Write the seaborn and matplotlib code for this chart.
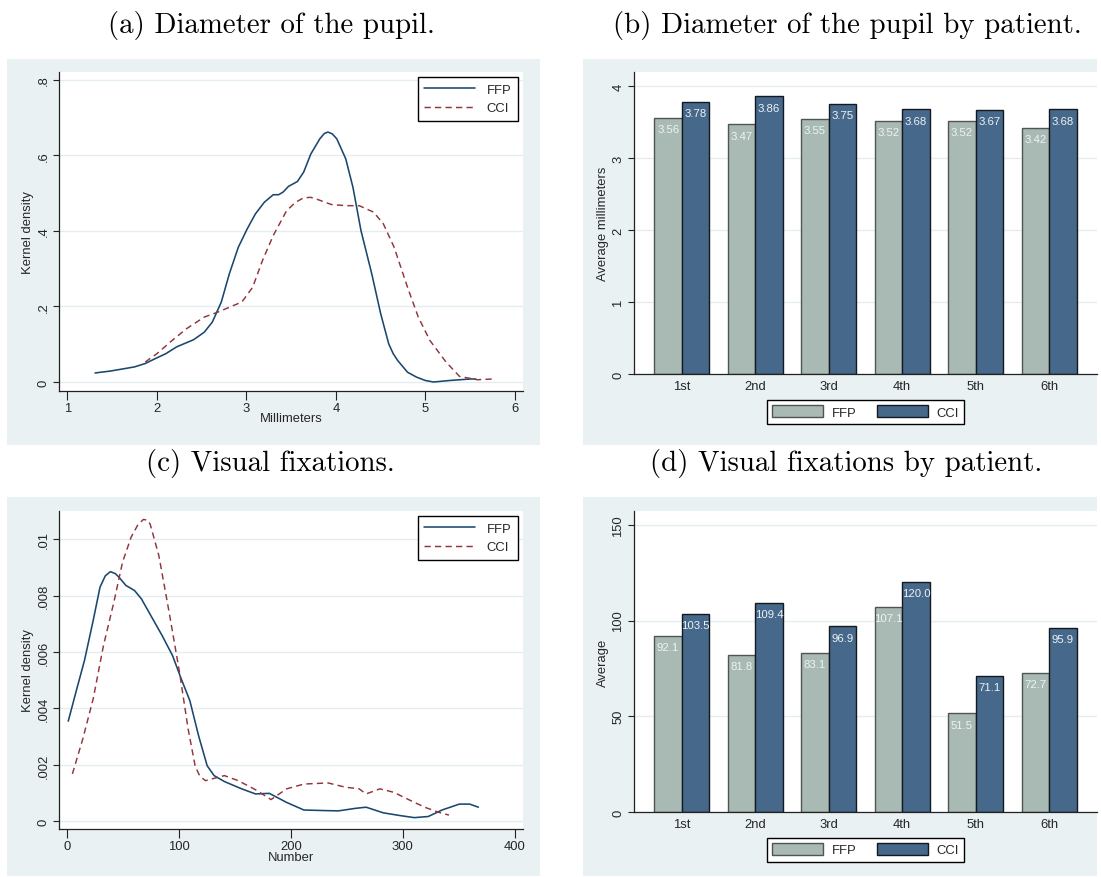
import numpy as np
import pandas as pd
import matplotlib
matplotlib.use("Agg")
import matplotlib.pyplot as plt
import seaborn as sns
from matplotlib.patches import Rectangle, Patch

# ---------------------------------------------------------------- data
# (a) kernel density of pupil diameter (mm)
pupil_ffp_x = [1.31, 1.48, 1.75, 1.87, 2.00, 2.10, 2.22, 2.41, 2.53, 2.62, 2.72, 2.81,
               2.91, 3.01, 3.10, 3.20, 3.30, 3.36, 3.41, 3.47, 3.57, 3.64, 3.72, 3.82,
               3.87, 3.91, 3.96, 4.01, 4.11, 4.19, 4.28, 4.40, 4.50, 4.59, 4.64, 4.69,
               4.80, 4.90, 5.00, 5.09, 5.27, 5.50, 5.56]
pupil_ffp_y = [0.024, 0.029, 0.040, 0.049, 0.064, 0.075, 0.093, 0.112, 0.132, 0.159, 0.212,
               0.287, 0.357, 0.406, 0.445, 0.476, 0.496, 0.496, 0.503, 0.518, 0.531, 0.556,
               0.604, 0.644, 0.658, 0.662, 0.657, 0.644, 0.591, 0.516, 0.401, 0.287, 0.181,
               0.101, 0.075, 0.057, 0.026, 0.013, 0.004, 0.000, 0.004, 0.008, 0.008]
pupil_cci_x = [1.87, 2.00, 2.17, 2.33, 2.53, 2.68, 2.95, 3.07, 3.18, 3.30, 3.45, 3.55,
               3.64, 3.72, 3.80, 3.95, 4.11, 4.26, 4.42, 4.53, 4.65, 4.80, 4.92, 5.05,
               5.23, 5.38, 5.58, 5.75]
pupil_cci_y = [0.053, 0.075, 0.110, 0.141, 0.172, 0.185, 0.212, 0.251, 0.322, 0.388, 0.454,
               0.476, 0.488, 0.489, 0.483, 0.470, 0.467, 0.467, 0.450, 0.419, 0.357, 0.251,
               0.172, 0.110, 0.053, 0.015, 0.006, 0.008]

# (c) kernel density of the number of visual fixations
fix_ffp_x = [0.9, 7.7, 15.4, 23.2, 29.3, 34.0, 38.6, 43.0, 46.3, 52.5, 60.2, 66.4, 77.2,
             84.9, 94.2, 101.9, 109.6, 117.4, 125.1, 131.3, 140.5, 156.0, 168.3, 180.7,
             196.1, 211.6, 230.1, 242.5, 257.9, 267.2, 282.6, 298.1, 310.4, 322.8, 335.1,
             350.6, 359.8, 367.6]
fix_ffp_y = [0.00355, 0.00457, 0.00570, 0.00712, 0.00830, 0.00870, 0.00885, 0.00878,
             0.00865, 0.00836, 0.00818, 0.00788, 0.00712, 0.00658, 0.00587, 0.00505,
             0.00428, 0.00304, 0.00197, 0.00162, 0.00141, 0.00115, 0.00097, 0.00099,
             0.00067, 0.00040, 0.00038, 0.00037, 0.00046, 0.00050, 0.00030, 0.00020,
             0.00013, 0.00017, 0.00040, 0.00061, 0.00061, 0.00050]
fix_cci_x = [4.6, 13.9, 23.2, 32.4, 41.7, 49.4, 57.1, 63.0, 68.0, 71.5, 74.1, 81.9, 91.1,
             100.4, 108.1, 114.3, 118.5, 123.6, 140.5, 152.9, 168.3, 182.2, 196.1, 211.6,
             233.2, 248.6, 261.0, 267.2, 279.5, 291.8, 307.3, 319.6, 332.0, 341.3]
fix_cci_y = [0.00168, 0.00292, 0.00434, 0.00623, 0.00777, 0.00918, 0.01007, 0.01050,
             0.01070, 0.01068, 0.01054, 0.00942, 0.00741, 0.00528, 0.00327, 0.00197,
             0.00160, 0.00144, 0.00162, 0.00144, 0.00112, 0.00077, 0.00115, 0.00132,
             0.00136, 0.00121, 0.00115, 0.00097, 0.00115, 0.00103, 0.00073, 0.00050,
             0.00032, 0.00022]

# (b), (d) averages by patient
patients = ["1st", "2nd", "3rd", "4th", "5th", "6th"]
groups = ["FFP", "CCI"]
pupil_mean_ffp = [3.56, 3.47, 3.55, 3.52, 3.52, 3.42]
pupil_mean_cci = [3.78, 3.86, 3.75, 3.68, 3.67, 3.68]
fix_mean_ffp = [92.1, 81.8, 83.1, 107.1, 51.5, 72.7]
fix_mean_cci = [103.5, 109.4, 96.9, 120.0, 71.1, 95.9]

# ---------------------------------------------------------------- style
W, H = 1101, 878
PANEL_BG = "#EAF1F3"
GRID = "#E4EDF0"
NAVY = "#1A476F"
MAROON = "#90353B"
BAR_FFP = "#A8BAB3"
BAR_CCI = "#46688A"
EDGE_FFP = "#4F5552"
EDGE_CCI = "#14191F"
FS = 9.4

sns.set_theme(style="white")
plt.rcParams["font.family"] = ["Liberation Sans", "DejaVu Sans"]
plt.rcParams["axes.unicode_minus"] = False
plt.rcParams["lines.solid_joinstyle"] = "round"
plt.rcParams["lines.dash_joinstyle"] = "round"

fig = plt.figure(figsize=(W / 100, H / 100), dpi=100)
fig.patch.set_facecolor("white")


def px_rect(left, top, right, bottom):
    return [left / W, 1 - bottom / H, (right - left) / W, (bottom - top) / H]


def panel_background(left, top, right, bottom):
    fig.patches.append(Rectangle((left / W, 1 - bottom / H), (right - left) / W,
                                 (bottom - top) / H, transform=fig.transFigure,
                                 facecolor=PANEL_BG, edgecolor="none", zorder=-5))


def title(x, y, text):
    fig.text(x / W, 1 - y / H, text, family="cmr10", fontsize=20.8,
             ha="center", va="baseline", color="black")


def style_axes(ax, ylabel, xlabel=None, tick_len_x=6.5):
    ax.set_facecolor("white")
    for side in ("top", "right"):
        ax.spines[side].set_visible(False)
    for side in ("left", "bottom"):
        ax.spines[side].set_color("#222222")
        ax.spines[side].set_linewidth(0.9)
    ax.grid(axis="y", color=GRID, lw=1.0)
    ax.grid(axis="x", visible=False)
    ax.set_axisbelow(True)
    ax.tick_params(axis="y", direction="out", length=4.5, width=0.8, color="#222222",
                   labelsize=FS, pad=2.5, labelrotation=90, left=True)
    ax.tick_params(axis="x", direction="out", length=tick_len_x, width=0.8,
                   color="#222222", labelsize=FS, pad=1.5, bottom=True)
    for lab in ax.get_yticklabels():
        lab.set_verticalalignment("center")
    ax.set_ylabel(ylabel, fontsize=FS)
    ax.yaxis.label.set_va("center")
    ax.yaxis.set_label_coords(-0.0675, 0.5)
    if xlabel is not None:
        ax.set_xlabel(xlabel, fontsize=FS)
        ax.xaxis.label.set_va("center")
    else:
        ax.set_xlabel("")


def density_panel(ax, fx, fy, cx, cy, xlim, ylim, xticks, yticks, yticklabels, xlabel,
                  xlabel_y):
    sns.lineplot(x=fx, y=fy, ax=ax, color=NAVY, lw=1.15, sort=False, estimator=None,
                 label="FFP")
    sns.lineplot(x=cx, y=cy, ax=ax, color=MAROON, lw=1.05, sort=False, estimator=None,
                 label="CCI", linestyle=(0, (4.3, 2.9)))
    ax.set_xlim(*xlim)
    ax.set_ylim(*ylim)
    ax.set_xticks(xticks)
    ax.set_xticklabels([str(t) for t in xticks])
    ax.set_yticks(yticks)
    ax.set_yticklabels(yticklabels)
    style_axes(ax, "Kernel density", xlabel)
    ax.xaxis.set_label_coords(0.5, xlabel_y)
    leg = ax.legend(loc="upper right", bbox_to_anchor=(0.989, 0.984), frameon=True,
                    fancybox=False, edgecolor="black", framealpha=1, fontsize=FS,
                    handlelength=3.9, borderpad=0.5, labelspacing=0.5,
                    handletextpad=0.9, borderaxespad=0)
    leg.get_frame().set_linewidth(1.0)


def bar_panel(ax, ffp, cci, ylim, yticks, ylabel, fmt):
    df = pd.DataFrame({
        "patient": patients * 2,
        "group": [groups[0]] * len(patients) + [groups[1]] * len(patients),
        "value": list(ffp) + list(cci),
    })
    sns.barplot(data=df, x="patient", y="value", hue="group", order=patients,
                hue_order=groups, palette={"FFP": BAR_FFP, "CCI": BAR_CCI},
                width=0.75, errorbar=None, saturation=1, linewidth=1.0,
                legend=False, ax=ax)
    for container, edge, vals in zip(ax.containers, (EDGE_FFP, EDGE_CCI), (ffp, cci)):
        for bar, v in zip(container, vals):
            bar.set_edgecolor(edge)
            ax.annotate(fmt.format(v), (bar.get_x() + bar.get_width() / 2, v),
                        xytext=(0, -8), textcoords="offset points", ha="center",
                        va="center", fontsize=8.2, color="#EEF2F4")
    ax.set_xlim(-0.652, 5.652)
    ax.set_ylim(*ylim)
    ax.set_yticks(yticks)
    ax.set_yticklabels([str(t) for t in yticks])
    style_axes(ax, ylabel, None, tick_len_x=0)
    ax.tick_params(axis="x", pad=4)
    handles = [Patch(facecolor=BAR_FFP, edgecolor=EDGE_FFP, lw=1.0),
               Patch(facecolor=BAR_CCI, edgecolor=EDGE_CCI, lw=1.0)]
    leg = ax.legend(handles, groups, loc="upper center", bbox_to_anchor=(0.5, -0.086),
                    ncol=2, frameon=True, fancybox=False, edgecolor="black",
                    framealpha=1, fontsize=FS, handlelength=3.9, handleheight=1.0,
                    columnspacing=1.6, handletextpad=0.65, borderpad=0.4,
                    borderaxespad=0)
    leg.get_frame().set_linewidth(1.0)


# ---------------------------------------------------------------- panels
panel_background(7, 60, 540, 446)
panel_background(583, 60, 1097, 446)
panel_background(7, 498, 540, 877)
panel_background(583, 498, 1097, 877)

title(271, 32.5, "(a) Diameter of the pupil.")
title(847, 32.5, "(b) Diameter of the pupil by patient.")
title(270, 471, "(c) Visual fixations.")
title(846, 471, "(d) Visual fixations by patient.")

ax_a = fig.add_axes(px_rect(59.3, 73, 523, 391.7))
density_panel(ax_a, pupil_ffp_x, pupil_ffp_y, pupil_cci_x, pupil_cci_y,
              (0.91, 6.09), (-0.023, 0.821), [1, 2, 3, 4, 5, 6],
              [0, 0.2, 0.4, 0.6, 0.8], ["0", ".2", ".4", ".6", ".8"],
              "Millimeters", -0.0857)

ax_b = fig.add_axes(px_rect(634, 73, 1097, 375))
bar_panel(ax_b, pupil_mean_ffp, pupil_mean_cci, (0, 4.2), [0, 1, 2, 3, 4],
          "Average millimeters", "{:.2f}")

ax_c = fig.add_axes(px_rect(59.3, 512, 523, 830))
density_panel(ax_c, fix_ffp_x, fix_ffp_y, fix_cci_x, fix_cci_y,
              (-7.1, 407.5), (-0.000273, 0.0110), [0, 100, 200, 300, 400],
              [0, 0.002, 0.004, 0.006, 0.008, 0.01],
              ["0", ".002", ".004", ".006", ".008", ".01"],
              "Number", -0.088)

ax_d = fig.add_axes(px_rect(634, 512, 1097, 813))
bar_panel(ax_d, fix_mean_ffp, fix_mean_cci, (0, 157.2), [0, 50, 100, 150],
          "Average", "{:.1f}")

fig.savefig("out.png", dpi=100)
